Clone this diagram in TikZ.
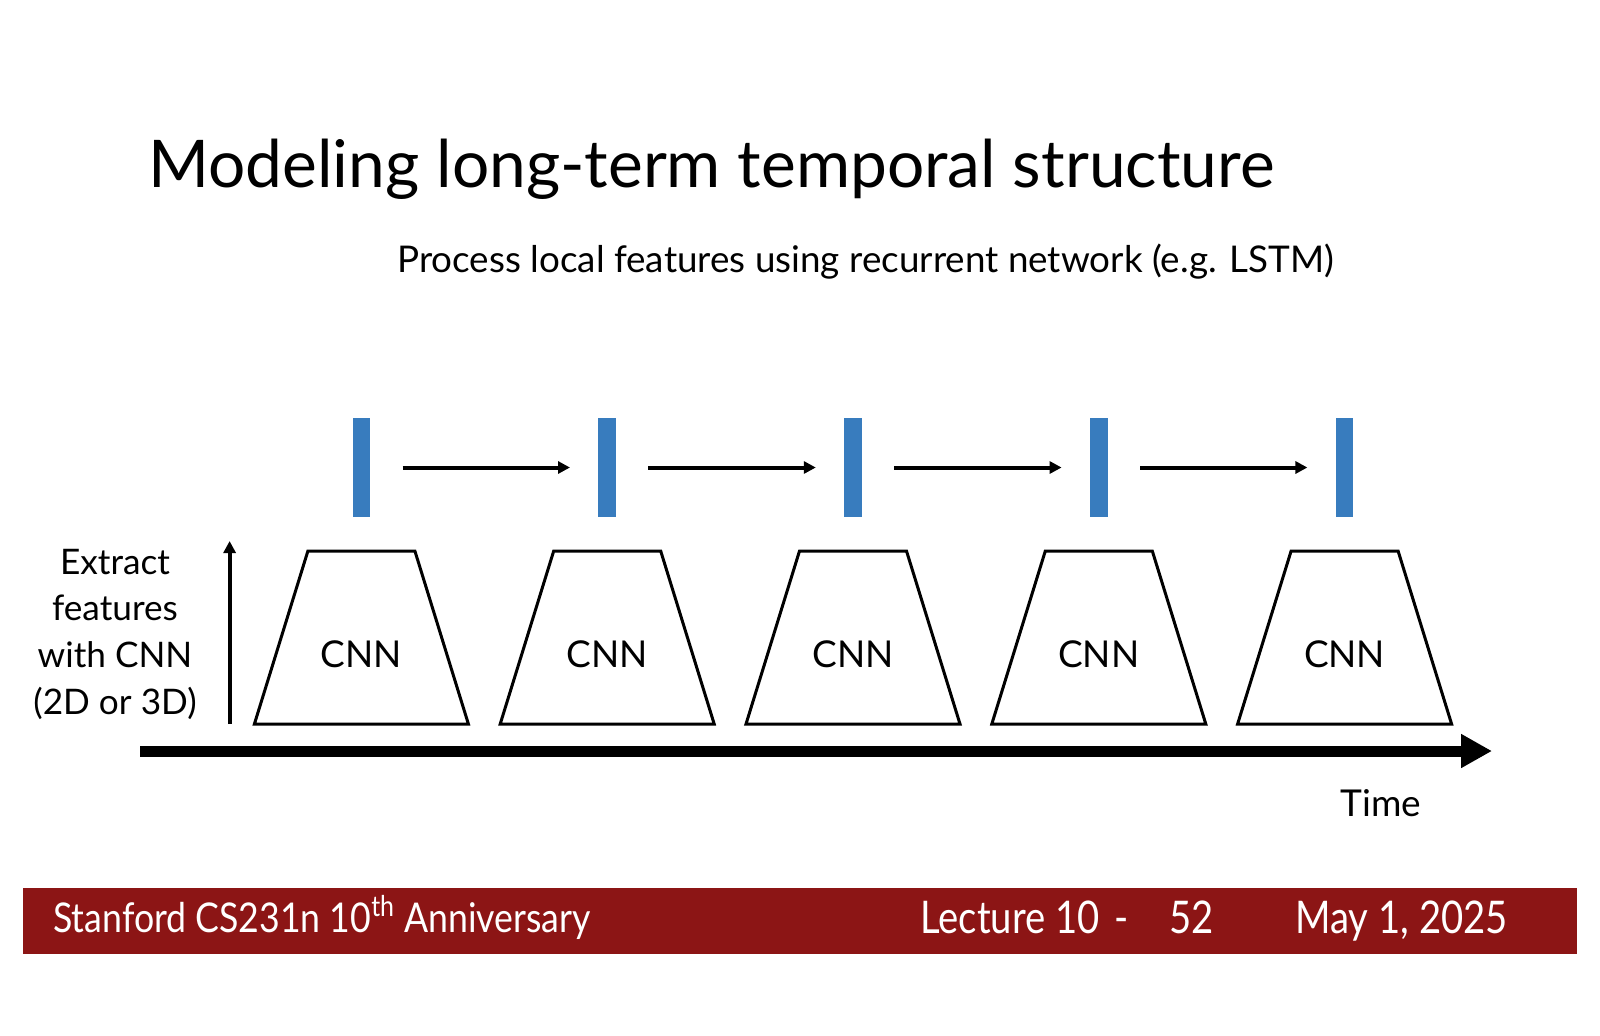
\documentclass[tikz,border=0pt]{standalone}
\usepackage{fontspec}
\setmainfont{Lato}
\usetikzlibrary{arrows.meta, positioning}
\definecolor{featblue}{RGB}{56,124,190}
\definecolor{cardinal}{RGB}{140,21,21}
\tikzset{
    feat/.style={rectangle, fill=featblue, minimum width=8.8pt, minimum height=49.5pt, inner sep=0pt},
    cnnbox/.style={draw, line width=1.5pt},
    rnn/.style={-{Triangle[length=6pt,width=6pt]}, line width=2pt},
    timeaxis/.style={-{Triangle[length=15.5pt,width=16pt]}, line width=5.5pt},
    lbl/.style={font=\fontsize{18.5}{23.3}\selectfont, align=center, inner sep=0pt},
    side/.style={font=\fontsize{17.6}{23.3}\selectfont, align=center, inner sep=0pt},
    foot/.style={font=\fontsize{20.5}{24}\selectfont, text=white, inner sep=0pt},
    footbig/.style={font=\fontsize{22.5}{26}\selectfont, text=white, inner sep=0pt}
}

\begin{document}
\begin{tikzpicture}[x=0.5pt, y=-0.5pt]
    \useasboundingbox[fill=white] (0,0) rectangle (1600,1035);
    \node[anchor=base west, inner sep=0pt, font=\fontsize{32.9}{40}\selectfont] (title) at (148,187) {Modeling long-term temporal structure};
    \node[anchor=base west, inner sep=0pt, font=\fontsize{18.4}{22}\selectfont] (sub) at (397,272) {Process local features using recurrent network (e.g. LSTM)};
    % feature vectors and CNNs over time
    \foreach \i in {1,...,5} {
        \node[feat] (bar\i) at (361.4+245.8*\i-245.8, 467.5) {};
        \coordinate (cnn\i) at (361.4+245.8*\i-245.8, 637.5);
        \draw[cnnbox] (cnn\i) ++(-107,86.5) -- ++(214,0) -- ++(-53.5,-173) -- ++(-107,0) -- cycle;
        \node[lbl, anchor=base] (lab\i) at (361.4+245.8*\i-245.8, 667) {CNN};
    }
    \foreach \i/\j in {1/2, 2/3, 3/4, 4/5}
        \draw[rnn] ([xshift=16pt]bar\i.east) -- ([xshift=-14pt]bar\j.west);
    % extraction arrow
    \coordinate (up0) at (229.6,724);
    \coordinate (up1) at (229.6,541);
    \draw[rnn] (up0) -- (up1);
    \node[side, anchor=base] (extract) at (115,714) {Extract\\features\\with CNN\\(2D or 3D)};
    % time axis
    \coordinate (t0) at (140,751);
    \coordinate (t1) at (1492,751);
    \draw[timeaxis] (t0) -- (t1);
    \node[lbl, anchor=base] (time) at (1381,816) {Time};
    % footer
    \fill[cardinal] (23,888) rectangle (1577,954);
    \node[foot, anchor=base west] (course) at (53,932) {\scalebox{0.87}[1]{Stanford CS231n 10\textsuperscript{th} Anniversary}};
    \node[footbig, anchor=base west] (lecture) at (920,933) {\scalebox{0.85}[1]{Lecture 10\hspace{3pt} -}};
    \node[footbig, anchor=base west] (page) at (1169,933) {\scalebox{0.85}[1]{52}};
    \node[footbig, anchor=base west] (date) at (1295,933) {\scalebox{0.85}[1]{May 1, 2025}};
\end{tikzpicture}
\end{document}
